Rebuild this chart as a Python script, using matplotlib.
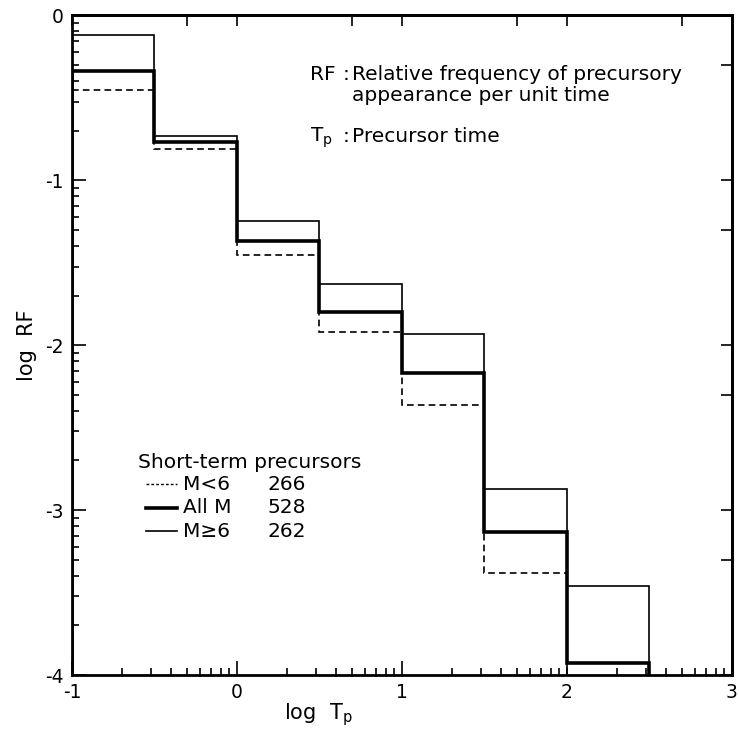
import numpy as np
import matplotlib
matplotlib.use("Agg")
import matplotlib.pyplot as plt
from matplotlib.ticker import FixedLocator, NullFormatter

# =====================================================
# DATA
# =====================================================
bin_edges = [-1.0, -0.5, 0.0, 0.5, 1.0, 1.5, 2.0, 2.5]
rf_small = [-0.45, -0.81, -1.45, -1.92, -2.36, -3.38]           # M<6 (no events above log Tp = 2)
rf_all = [-0.34, -0.77, -1.37, -1.80, -2.17, -3.13, -3.93]      # All M
rf_large = [-0.12, -0.73, -1.245, -1.63, -1.93, -2.87, -3.46]   # M>=6

legend_names = ["M<6", "All M", "M≥6"]
legend_counts = [266, 528, 262]

FONT = "DejaVu Sans"
plt.rcParams['font.family'] = FONT

# =====================================================
# FIGURE
# =====================================================
fig = plt.figure(figsize=(7.39, 7.31), dpi=100)
ax = fig.add_axes([0.0974, 0.0766, 0.8931, 0.9023])

base = -4.0
ax.stairs(rf_small, bin_edges[:len(rf_small) + 1], baseline=base,
          color="black", lw=1.2, ls=(0, (4, 2.5)))
ax.stairs(rf_large, bin_edges, baseline=base, color="black", lw=1.2)
ax.stairs(rf_all, bin_edges, baseline=base, color="black", lw=2.6)

ax.set_xlim(-1, 3)
ax.set_ylim(-4, 0)

for s in ax.spines.values():
    s.set_linewidth(2.0)

# log style ticks
decades = np.arange(-4, 4)
log_minor = np.log10(np.arange(2, 10))
minor_all = np.concatenate([d + log_minor for d in decades])

ax.xaxis.set_major_locator(FixedLocator([-1, 0, 1, 2, 3]))
ax.xaxis.set_minor_locator(FixedLocator(minor_all))
ax.yaxis.set_major_locator(FixedLocator([-4, -3, -2, -1, 0]))
ax.yaxis.set_minor_locator(FixedLocator(minor_all))
ax.set_xticklabels(["-1", "0", "1", "2", "3"])
ax.set_yticklabels(["-4", "-3", "-2", "-1", "0"])
ax.tick_params(which="both", direction="in", top=False, right=False,
               labelsize=13.5, width=1.2)
ax.tick_params(which="major", length=10, pad=6)
ax.tick_params(which="minor", length=5)

# top / right only carry the integer and the "5" ticks
sec_x = ax.secondary_xaxis("top")
sec_x.set_xticks(list(range(-1, 4)) + [d + np.log10(5) for d in range(-1, 3)])
sec_x.xaxis.set_major_formatter(NullFormatter())
sec_x.tick_params(direction="in", length=8, width=1.2)
sec_x.spines["top"].set_linewidth(2.0)
sec_y = ax.secondary_yaxis("right")
sec_y.set_yticks(list(range(-4, 1)) + [d - np.log10(2) for d in range(-3, 1)])
sec_y.yaxis.set_major_formatter(NullFormatter())
sec_y.tick_params(direction="in", length=8, width=1.2)
sec_y.spines["right"].set_linewidth(2.0)

ax.set_ylabel("log  RF", fontsize=15, labelpad=6)
ax.text(0.373, -0.068, r"log  T$_\mathregular{p}$", transform=ax.transAxes,
        fontsize=15, ha="center", va="baseline")

# =====================================================
# ANNOTATIONS
# =====================================================
fs = 14.5
ax.text(0.442, -0.39, "RF", fontsize=fs, va="baseline")
ax.text(0.64, -0.39, ":", fontsize=fs, va="baseline")
ax.text(0.697, -0.39, "Relative frequency of precursory", fontsize=fs, va="baseline")
ax.text(0.697, -0.517, "appearance per unit time", fontsize=fs, va="baseline")
ax.text(0.442, -0.766, r"T$_\mathregular{p}$", fontsize=fs, va="baseline")
ax.text(0.64, -0.766, ":", fontsize=fs, va="baseline")
ax.text(0.697, -0.766, "Precursor time", fontsize=fs, va="baseline")

# legend drawn by hand like the original
ax.text(-0.6, -2.742, "Short-term precursors", fontsize=fs, va="baseline")
sample_y = [-2.844, -2.99, -3.129]
sample_text_y = [-2.88, -3.02, -3.165]
styles = [dict(lw=1.0, ls=(0, (2, 1.5))), dict(lw=2.6, ls="-"), dict(lw=1.2, ls="-")]
for name, count, ly, ty, st in zip(legend_names, legend_counts, sample_y, sample_text_y, styles):
    ax.plot([-0.552, -0.364], [ly, ly], color="black", **st)
    ax.text(-0.327, ty, name, fontsize=fs, va="baseline")
    ax.text(0.188, ty, str(count), fontsize=fs, va="baseline")

fig.savefig("out.png", dpi=100)
